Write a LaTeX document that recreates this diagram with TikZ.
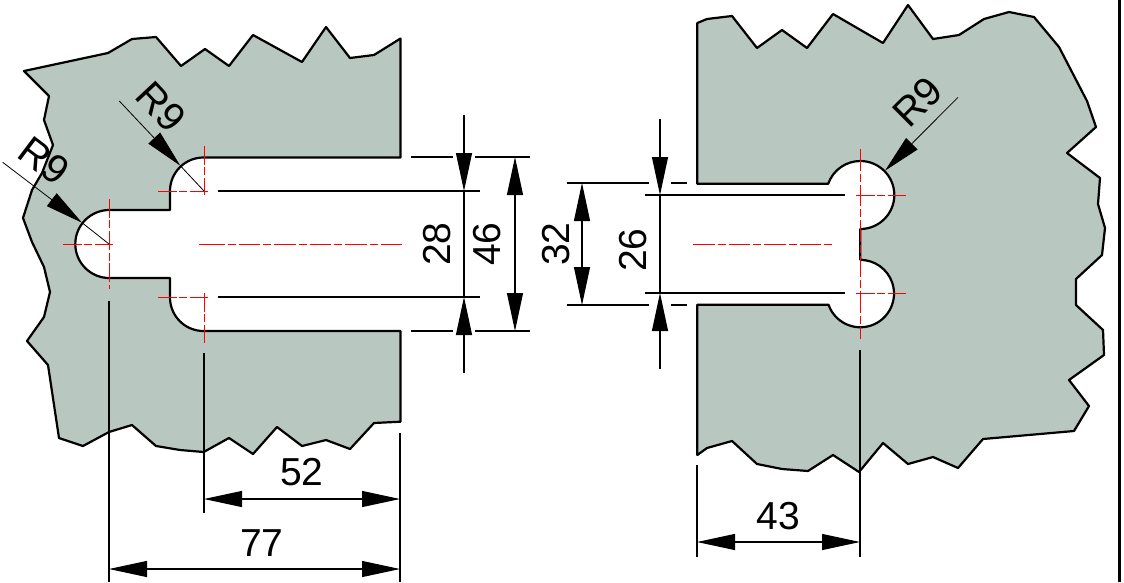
\documentclass[tikz,border=0pt]{standalone}
\usepackage{fontspec}
\setmainfont{Liberation Sans}
\usetikzlibrary{arrows.meta}
\definecolor{partfill}{HTML}{B8C7C0}
\definecolor{cl}{HTML}{FF0000}
\tikzset{
  part/.style={fill=partfill,draw=black,line width=2.2pt,line join=round},
  dimline/.style={draw=black,line width=1.1pt},
  thinline/.style={draw=black,line width=0.8pt},
  axisline/.style={draw=cl,line width=0.9pt,dash pattern=on 21.5pt off 3pt on 8pt off 3pt},
  markline/.style={draw=cl,line width=0.85pt,dash pattern=on 18.7pt off 2.7pt on 8pt off 2.7pt},
  tip/.style={-{Triangle[length=38pt,width=16pt]}},
  tips/.style={{Triangle[length=38pt,width=16pt]}-{Triangle[length=38pt,width=16pt]}},
  dimtext/.style={font=\fontsize{39}{39}\selectfont,inner sep=0pt},
  radtext/.style={font=\fontsize{40}{40}\selectfont,inner sep=0pt},
}
\begin{document}
\begin{tikzpicture}[x=1pt,y=1pt,yscale=-1]
\useasboundingbox (0,0) rectangle (1124,582);
\fill[white] (0,0) rectangle (1124,582);
% left part
\path[part] (400.5,38.5) -- (400.5,157.5) -- (203.5,157.5) arc[start angle=-90,end angle=-180,radius=33.5]
 -- (170,210) -- (109.3,210) arc[start angle=-90,end angle=-270,radius=34]
 -- (170,278) -- (170,297.5) arc[start angle=180,end angle=90,radius=33.5]
 -- (400.5,331) -- (400.5,421.7) -- (374,423) -- (350,449) -- (326,440) -- (302,446) -- (277,427)
 -- (253,454) -- (229,438) -- (203.7,452) -- (180,450) -- (156,446) -- (132,425) -- (109,432)
 -- (83,446) -- (59,438) -- (48,365) -- (27,341) -- (44,317) -- (50,292) -- (44,267) -- (32,242)
 -- (23,218) -- (32,190) -- (42,173) -- (53,145) -- (44,120) -- (49,96) -- (24,71) -- (108,53)
 -- (132,39) -- (156,37) -- (181,66) -- (205,49) -- (229,66) -- (253,35) -- (302,62) -- (326,27)
 -- (350,58) -- (374,55) -- cycle;
% right part
\path[part] (697.3,23) -- (707,19) -- (732,16) -- (757,48) -- (782,30) -- (807,48) -- (833,14)
 -- (883,43) -- (908,5) -- (933,39) -- (959,35) -- (984,19) -- (1009,12) -- (1034,17) -- (1059,47)
 -- (1087,101) -- (1096,127) -- (1067,153) -- (1100,178) -- (1098,204) -- (1105,228) -- (1102,255)
 -- (1076,279) -- (1076,305) -- (1103,330) -- (1104,355) -- (1069,380) -- (1089,406) -- (1074,431)
 -- (983,439) -- (958,468) -- (933,457) -- (908,464) -- (883,443) -- (859,472) -- (833,455)
 -- (808,471) -- (782,469) -- (757,464) -- (732,441) -- (707,448) -- (697.3,455) -- (697.3,304.7)
 -- (828.5,304.7) arc[start angle=160.7,end angle=-90,radius=33.7]
 -- (860.3,229) arc[start angle=90,end angle=-160.7,radius=34]
 -- (697.3,183.8) -- cycle;
% page border
\draw[black,line width=2.6pt] (1119.3,0) -- (1119.3,582);
% red centre lines, left
\draw[markline] (63,244) -- (113,244);
\draw[markline] (109,199) -- (109,289);
\draw[markline] (158,191) -- (208,191);
\draw[markline] (204,146) -- (204,195);
\draw[markline] (158,297) -- (208,297);
\draw[markline] (204,293) -- (204,343);
\draw[draw=cl,line width=0.9pt] (199.3,244) -- (203,244);
\draw[axisline] (203,244) -- (405,244);
% red centre lines, right
\draw[axisline] (693,244) -- (832,244);
\draw[axisline] (860,149) -- (860,339);
\draw[markline] (856,195) -- (906,195);
\draw[markline] (856,293) -- (906,293);
% extension lines
\foreach \ya in {157,331}{
  \draw[dimline] (411,\ya) -- (453,\ya);
  \draw[dimline] (475,\ya) -- (530,\ya);
}
\foreach \ya in {191,297}{
  \draw[dimline] (218,\ya) -- (479.5,\ya);
}
\foreach \ya in {183,305}{
  \draw[dimline] (567,\ya) -- (649,\ya);
  \draw[dimline] (671,\ya) -- (686.5,\ya);
}
\foreach \ya in {195,293}{
  \draw[dimline] (645,\ya) -- (845,\ya);
}
\draw[dimline] (109,300.7) -- (109,582);
\draw[dimline] (204,353) -- (204,513);
\draw[dimline] (400,433) -- (400,582);
\draw[dimline] (860,350) -- (860,557);
\draw[dimline] (697,465) -- (697,557);
% dimensions
\draw[dimline,tip] (464,115) -- (464,191);
\draw[dimline] (464,191) -- (464,297);
\draw[dimline,tip] (464,373) -- (464,297);
\draw[dimline,tips] (515,157) -- (515,331);
\draw[dimline,tips] (582,183) -- (582,305);
\draw[dimline,tip] (660,119) -- (660,195);
\draw[dimline] (660,195) -- (660,293);
\draw[dimline,tip] (660,369) -- (660,293);
\draw[dimline,tips] (204,499) -- (400,499);
\draw[dimline,tips] (109,569) -- (400,569);
\draw[dimline,tips] (697,542) -- (860,542);
% radius leaders
\draw[thinline,tip] (119.3,101) -- (180.3,165.7);
\draw[thinline] (180.3,165.7) -- (204,191);
\draw[thinline,tip] (2.7,162.3) -- (82,222.7);
\draw[thinline] (82,222.7) -- (109,244);
\draw[thinline,tip] (958,97.3) -- (885,170.7);
% labels
\node[dimtext,rotate=90] (d28) at (437,244) {28};
\node[dimtext,rotate=90] (d46) at (487,244) {46};
\node[dimtext,rotate=90] (d32) at (556,244) {32};
\node[dimtext,rotate=90] (d26) at (633,250) {26};
\node[dimtext] (d52) at (302,472) {52};
\node[dimtext] (d77) at (262,543) {77};
\node[dimtext] (d43) at (778,516) {43};
\node[radtext,rotate=-47] (r1) at (161.5,106.5) {R9};
\node[radtext,rotate=-37] (r2) at (44.5,161) {R9};
\node[radtext,rotate=45] (r3) at (917.5,102) {R9};
\end{tikzpicture}
\end{document}
